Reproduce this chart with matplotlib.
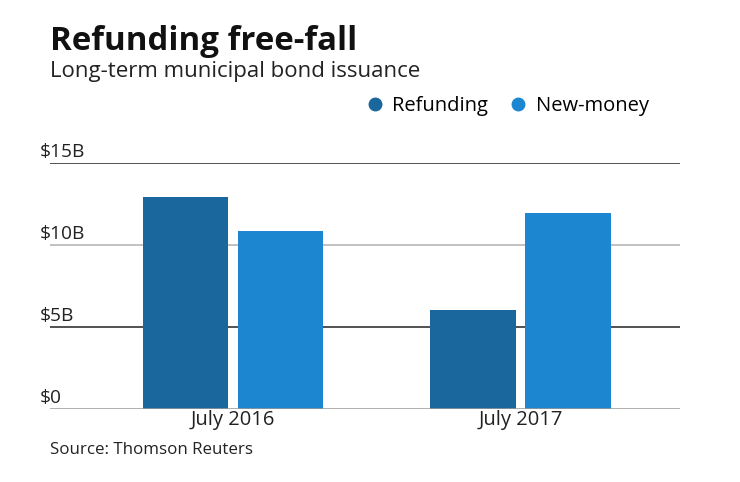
import matplotlib
matplotlib.use("Agg")
import matplotlib.pyplot as plt
import matplotlib.transforms as mtransforms
from matplotlib.lines import Line2D
import numpy as np

categories = ["July 2016", "July 2017"]
refunding = [12.9, 6.05]
new_money = [10.85, 11.95]
yticks = [0, 5, 10, 15]
ytick_labels = ["$0", "$5B", "$10B", "$15B"]
series_names = ["Refunding", "New-money"]

c_ref = "#1a679e"
c_new = "#1c87d0"
font = "Open Sans"

fig = plt.figure(figsize=(7.4, 4.82), dpi=100)
W, H = 740, 482
ax = fig.add_axes([50 / W, (H - 409) / H, 630 / W, (409 - 163) / H])

x = np.arange(len(categories))
bw = 0.297
off = 0.165
ax.bar(x - off, refunding, bw, color=c_ref, zorder=3)
ax.bar(x + off, new_money, bw, color=c_new, zorder=3)

ax.set_xlim(-0.637, 1.555)
ax.set_ylim(0, 15)
grid_colors = {0: "#9a9a9a", 5: "#222222", 10: "#b0b0b0", 15: "#222222"}
for v in yticks:
    ax.axhline(v, color=grid_colors[v], lw=1.1, zorder=1 if v else 4)

for s in ax.spines.values():
    s.set_visible(False)
ax.set_yticks([])
ax.set_xticks(x)
ax.set_xticklabels(categories, fontsize=14.5, family=font, color="#222222")
ax.tick_params(axis="x", length=0, pad=1)

trans = mtransforms.blended_transform_factory(ax.transAxes, ax.transData)
for v, lab in zip(yticks, ytick_labels):
    ax.text(-0.016, v + 0.15, lab, transform=trans, ha="left", va="bottom",
            fontsize=13.8, family=font, color="#222222")

fig.text(50 / W, 1 - 41 / H, "Refunding free-fall", fontsize=23.8, fontweight="bold",
         family=font, color="#111111", va="center", ha="left")
fig.text(50 / W, 1 - 72 / H, "Long-term municipal bond issuance", fontsize=16,
         family=font, color="#222222", va="center", ha="left")
fig.text(50 / W, 1 - 450 / H, "Source: Thomson Reuters", fontsize=12.2,
         family=font, color="#222222", va="center", ha="left")

handles = [Line2D([], [], marker="o", ls="", color=c_ref, markersize=9),
           Line2D([], [], marker="o", ls="", color=c_new, markersize=9)]
fig.legend(handles, series_names, loc="center left",
           bbox_to_anchor=(347 / W, 1 - 106 / H), ncol=2, frameon=False,
           prop={"family": font, "size": 14.5}, handletextpad=0.35,
           columnspacing=1.0, handlelength=1.0)

fig.savefig("out.png", dpi=100, facecolor="white")
